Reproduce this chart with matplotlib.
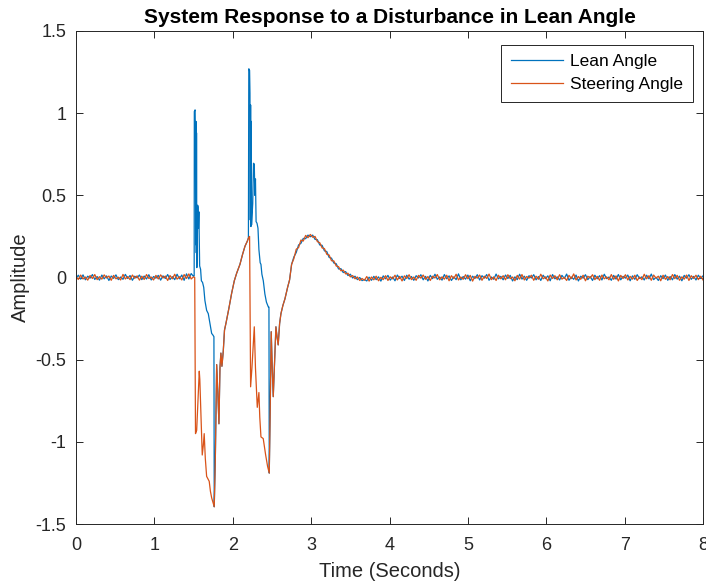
"""Lean and steering angle response of the bicycle model to a lean disturbance."""

import matplotlib

matplotlib.use("Agg")
import matplotlib.pyplot as plt
import numpy as np

plt.rcParams["font.family"] = ["Liberation Sans", "DejaVu Sans"]

# Quiet period before the disturbance (sampled every 0.03 s)
t_head = np.round(np.arange(0.0, 1.499, 0.03), 3)
lean_head = [
    -0.006, 0.014, -0.010, 0.016, -0.014, 0.008, -0.004, 0.018, -0.012, 0.006,
    -0.016, 0.015, -0.008, 0.010, -0.018, 0.009, -0.005, 0.016, -0.013, 0.003,
    -0.011, 0.019, -0.006, 0.012, -0.017, 0.008, -0.002, 0.015, -0.013, 0.009,
    -0.009, 0.017, -0.015, 0.006, -0.004, 0.013, -0.016, 0.010, -0.006, 0.018,
    -0.012, 0.005, -0.013, 0.020, -0.008, 0.015, -0.017, 0.022, -0.009, 0.024,
]
steer_head = [
    0.006, -0.012, 0.015, -0.009, 0.003, -0.016, 0.012, -0.006, 0.018, -0.013,
    0.005, -0.010, 0.016, -0.003, 0.009, -0.017, 0.013, -0.008, 0.002, -0.015,
    0.019, -0.009, 0.006, -0.013, 0.015, -0.005, 0.010, -0.016, 0.008, -0.012,
    0.018, -0.006, 0.003, -0.015, 0.013, -0.009, 0.016, -0.003, 0.009, -0.018,
    0.012, -0.008, 0.020, -0.010, 0.005, -0.015, 0.018, -0.006, 0.022, -0.009,
]

# Disturbance: two lean spikes with the steering kicking the other way
t_lean_event = [
    1.500, 1.508, 1.510, 1.520, 1.524, 1.528, 1.531, 1.535, 1.538, 1.542,
    1.548, 1.552, 1.558, 1.562, 1.568, 1.578, 1.590, 1.600, 1.615, 1.630,
    1.645, 1.667, 1.688, 1.709, 1.731, 1.747, 1.760, 1.764,
    1.778, 1.795, 1.810, 1.824, 1.837, 1.849, 1.862, 1.879, 1.895, 1.913,
    1.950, 1.986, 2.020, 2.050, 2.092, 2.125, 2.156, 2.185, 2.200,
    2.205, 2.215, 2.220, 2.224, 2.228, 2.232, 2.236, 2.240, 2.255, 2.265,
    2.275, 2.282, 2.290, 2.298, 2.310, 2.322, 2.334, 2.350, 2.360, 2.372,
    2.390, 2.410, 2.430, 2.455, 2.462, 2.466,
    2.478, 2.491, 2.504, 2.517, 2.535, 2.551, 2.565, 2.580, 2.598, 2.615,
    2.640, 2.666, 2.700, 2.725, 2.751,
]
lean_event = [
    0.006, 0.010, 1.010, 1.020, 0.840, 0.200, 0.950, 0.150, 0.880, 0.060,
    0.200, 0.440, 0.430, 0.300, 0.400, 0.070, 0.050, -0.020, -0.030, -0.060,
    -0.140, -0.200, -0.220, -0.280, -0.340, -0.350, -0.360, -1.395,
    -1.100, -0.530, -0.700, -0.890, -0.550, -0.460, -0.540, -0.450, -0.320, -0.280,
    -0.190, -0.096, -0.020, 0.026, 0.080, 0.140, 0.190, 0.220, 0.240,
    1.270, 1.260, 1.120, 0.350, 1.050, 0.310, 0.950, 0.320, 0.450, 0.695,
    0.690, 0.500, 0.600, 0.340, 0.330, 0.300, 0.170, 0.090, 0.080, 0.020,
    -0.020, -0.100, -0.150, -0.180, -0.180, -1.190,
    -0.800, -0.330, -0.550, -0.725, -0.500, -0.300, -0.360, -0.410, -0.280, -0.220,
    -0.170, -0.130, -0.060, -0.015, 0.080,
]

t_steer_event = [
    1.500, 1.515, 1.525, 1.540, 1.573, 1.580, 1.611, 1.625, 1.636, 1.650,
    1.667, 1.700, 1.715, 1.731, 1.764,
    1.778, 1.795, 1.810, 1.824, 1.837, 1.849, 1.862, 1.879, 1.895, 1.913,
    1.950, 1.986, 2.020, 2.050, 2.092, 2.125, 2.156, 2.185, 2.200, 2.215,
    2.228, 2.245, 2.275, 2.290, 2.313, 2.334, 2.345, 2.360, 2.389, 2.420,
    2.445, 2.466,
    2.478, 2.491, 2.504, 2.517, 2.535, 2.551, 2.565, 2.580, 2.598, 2.615,
    2.640, 2.666, 2.700, 2.725, 2.751,
]
steer_event = [
    0.004, 0.000, -0.950, -0.930, -0.570, -0.620, -1.080, -1.020, -0.950, -1.100,
    -1.210, -1.240, -1.300, -1.340, -1.395,
    -1.100, -0.530, -0.700, -0.890, -0.550, -0.460, -0.540, -0.450, -0.320, -0.280,
    -0.190, -0.096, -0.020, 0.026, 0.080, 0.140, 0.190, 0.220, 0.240, 0.250,
    -0.665, -0.550, -0.300, -0.550, -0.790, -0.700, -0.850, -0.970, -0.980, -1.080,
    -1.150, -1.190,
    -0.800, -0.330, -0.550, -0.725, -0.500, -0.300, -0.360, -0.410, -0.280, -0.220,
    -0.170, -0.130, -0.060, -0.015, 0.080,
]

# Overshoot bump while the system settles (both signals)
t_bump = np.round(np.arange(2.78, 3.66, 0.03), 3)
lean_bump = [
    0.125, 0.152, 0.198, 0.208, 0.238, 0.236, 0.258, 0.248, 0.258, 0.232,
    0.230, 0.198, 0.196, 0.162, 0.158, 0.122, 0.118, 0.088, 0.084, 0.052,
    0.054, 0.030, 0.036, 0.012, 0.020, -0.003, 0.008, -0.013, 0.000, -0.019,
]
steer_bump = [
    0.115, 0.172, 0.182, 0.228, 0.222, 0.256, 0.242, 0.262, 0.245, 0.250,
    0.218, 0.212, 0.180, 0.176, 0.141, 0.137, 0.102, 0.101, 0.070, 0.066,
    0.041, 0.045, 0.022, 0.026, 0.004, 0.012, -0.008, 0.003, -0.018, -0.006,
]

# Settled response (sampled every 0.03 s)
t_tail = np.round(np.linspace(3.68, 8.0, 145), 3)
lean_tail = [
    -0.012, -0.021, 0.002, -0.017, 0.007, -0.013, 0.004, -0.022, 0.010, -0.008,
    0.013, -0.016, 0.003, -0.020, 0.015, -0.006, 0.008, -0.018, 0.014, -0.010,
    0.006, -0.017, 0.011, -0.003, 0.017, -0.014, 0.007, -0.021, 0.013, -0.007,
    0.020, -0.011, 0.003, -0.016, 0.018, -0.008, 0.010, -0.018, 0.004, -0.013,
    0.022, -0.014, 0.006, -0.010, 0.015, -0.020, 0.008, -0.006, 0.017, -0.015,
    0.011, -0.004, 0.018, -0.017, 0.003, -0.011, 0.021, -0.008, 0.007, -0.014,
    0.015, -0.006, 0.013, -0.021, 0.004, -0.013, 0.020, -0.010, 0.008, -0.017,
    0.011, -0.003, 0.017, -0.014, 0.006, -0.018, 0.014, -0.007, 0.010, -0.020,
    0.018, -0.008, 0.004, -0.015, 0.013, -0.006, 0.021, -0.017, 0.003, -0.011,
    0.015, -0.021, 0.008, -0.004, 0.017, -0.013, 0.006, -0.018, 0.014, -0.008,
    0.011, -0.015, 0.020, -0.007, 0.003, -0.017, 0.013, -0.010, 0.018, -0.014,
    0.007, -0.004, 0.015, -0.020, 0.010, -0.011, 0.017, -0.006, 0.004, -0.015,
    0.014, -0.008, 0.021, -0.013, 0.001, -0.018, 0.011, -0.007, 0.015, -0.017,
    0.006, -0.014, 0.018, -0.010, 0.008, -0.020, 0.013, -0.004, 0.017, -0.011,
    0.007, -0.015, 0.014, -0.006, 0.010,
]
steer_tail = [
    -0.017, 0.006, -0.022, 0.003, -0.014, 0.008, -0.020, 0.001, -0.013, 0.011,
    -0.018, 0.004, -0.008, 0.014, -0.015, 0.007, -0.021, 0.010, -0.006, 0.017,
    -0.013, 0.003, -0.017, 0.013, -0.004, 0.015, -0.011, 0.006, -0.018, 0.008,
    -0.003, 0.018, -0.014, 0.004, -0.010, 0.014, -0.020, 0.011, -0.007, 0.020,
    -0.015, 0.003, -0.011, 0.017, -0.008, 0.013, -0.022, 0.007, -0.004, 0.015,
    -0.017, 0.008, -0.006, 0.021, -0.013, 0.004, -0.018, 0.014, -0.008, 0.011,
    -0.014, 0.017, -0.007, 0.003, -0.020, 0.013, -0.010, 0.018, -0.015, 0.006,
    -0.004, 0.014, -0.017, 0.008, -0.011, 0.020, -0.008, 0.004, -0.021, 0.015,
    -0.006, 0.011, -0.014, 0.017, -0.010, 0.001, -0.018, 0.013, -0.007, 0.022,
    -0.015, 0.006, -0.011, 0.014, -0.020, 0.008, -0.003, 0.017, -0.013, 0.007,
    -0.017, 0.015, -0.008, 0.004, -0.014, 0.018, -0.011, 0.010, -0.021, 0.013,
    -0.006, 0.017, -0.015, 0.007, -0.010, 0.014, -0.018, 0.003, -0.013, 0.020,
    -0.008, 0.011, -0.017, 0.015, -0.004, 0.008, -0.020, 0.014, -0.011, 0.006,
    -0.014, 0.018, -0.007, 0.013, -0.017, 0.004, -0.010, 0.015, -0.018, 0.011,
    -0.006, 0.014, -0.013, 0.008, -0.015,
]

x_ticks = [0, 1, 2, 3, 4, 5, 6, 7, 8]
y_ticks = [-1.5, -1.0, -0.5, 0.0, 0.5, 1.0, 1.5]
y_tick_labels = ["-1.5", "-1", "-0.5", "0", "0.5", "1", "1.5"]

t_lean = np.concatenate([t_head, t_lean_event, t_bump, t_tail])
lean = np.concatenate([lean_head, lean_event, lean_bump, lean_tail])
t_steer = np.concatenate([t_head, t_steer_event, t_bump, t_tail])
steer = np.concatenate([steer_head, steer_event, steer_bump, steer_tail])

axis_color = "#262626"

fig = plt.figure(figsize=(7.06, 5.88), dpi=100)
ax = fig.add_axes([0.1076, 0.1088, 0.8882, 0.8385])

ax.plot(t_lean, lean, color="#0072BD", linewidth=0.9, label="Lean Angle")
ax.plot(t_steer, steer, color="#D95319", linewidth=0.9, label="Steering Angle")

ax.set_xlim(0, 8)
ax.set_ylim(-1.5, 1.5)
ax.set_xticks(x_ticks)
ax.set_yticks(y_ticks)
ax.set_yticklabels(y_tick_labels)
ax.tick_params(
    direction="in", length=5, width=0.7, top=True, right=True,
    labelsize=13, colors=axis_color,
)
ax.tick_params(axis="x", pad=9)
ax.tick_params(axis="y", pad=7)
for spine in ax.spines.values():
    spine.set_color(axis_color)
    spine.set_linewidth(0.7)

ax.set_title(
    "System Response to a Disturbance in Lean Angle",
    fontsize=15, fontweight="bold", color="black", pad=6,
)
ax.set_xlabel("Time (Seconds)", fontsize=14.5, color=axis_color, labelpad=6)
ax.set_ylabel("Amplitude", fontsize=14.5, color=axis_color, labelpad=4)

leg = ax.legend(
    loc="upper right", bbox_to_anchor=(0.984, 0.972), borderaxespad=0,
    fontsize=12.5, frameon=True, fancybox=False, framealpha=1,
    edgecolor=axis_color, handlelength=3.0, handletextpad=0.45,
    borderpad=0.55, labelspacing=0.45,
)
leg.get_frame().set_linewidth(0.7)

fig.savefig("out.png", dpi=100, facecolor="white")
plt.close(fig)
